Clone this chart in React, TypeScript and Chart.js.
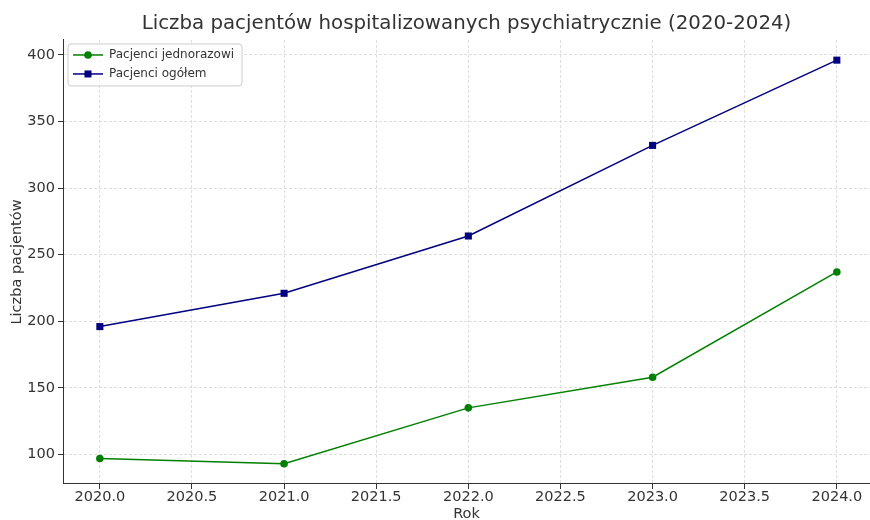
import React, { useEffect, useRef } from "react";
import { Chart, registerables } from "chart.js";

Chart.register(...registerables);

const years = [2020, 2021, 2022, 2023, 2024];
const jednorazowi = [97, 93, 135, 158, 237];
const ogolem = [196, 221, 264, 332, 396];
const seriesLabels = ["Pacjenci jednorazowi", "Pacjenci ogółem"];
const xTicks = [2020.0, 2020.5, 2021.0, 2021.5, 2022.0, 2022.5, 2023.0, 2023.5, 2024.0];
const yTicks = [100, 150, 200, 250, 300, 350, 400];
const titleText = "Liczba pacjentów hospitalizowanych psychiatrycznie (2020-2024)";
const xTitle = "Rok";
const yTitle = "Liczba pacjentów";

const FONT = "'DejaVu Sans', sans-serif";
const TEXT = "#333333";

const legendPlugin = {
  id: "innerLegend",
  afterDraw(chart: any) {
    const ctx = chart.ctx as CanvasRenderingContext2D;
    const area = chart.chartArea;
    const x0 = area.left + 5;
    const y0 = area.top + 4;
    const w = 174;
    const h = 42;
    ctx.save();
    ctx.beginPath();
    const r = 3;
    ctx.moveTo(x0 + r, y0);
    ctx.lineTo(x0 + w - r, y0);
    ctx.quadraticCurveTo(x0 + w, y0, x0 + w, y0 + r);
    ctx.lineTo(x0 + w, y0 + h - r);
    ctx.quadraticCurveTo(x0 + w, y0 + h, x0 + w - r, y0 + h);
    ctx.lineTo(x0 + r, y0 + h);
    ctx.quadraticCurveTo(x0, y0 + h, x0, y0 + h - r);
    ctx.lineTo(x0, y0 + r);
    ctx.quadraticCurveTo(x0, y0, x0 + r, y0);
    ctx.closePath();
    ctx.fillStyle = "rgba(255,255,255,0.8)";
    ctx.fill();
    ctx.strokeStyle = "#cccccc";
    ctx.lineWidth = 1;
    ctx.stroke();
    chart.data.datasets.forEach((ds: any, i: number) => {
      const cy = y0 + 11 + i * 19;
      ctx.strokeStyle = ds.borderColor;
      ctx.lineWidth = 1.5;
      ctx.beginPath();
      ctx.moveTo(x0 + 5, cy);
      ctx.lineTo(x0 + 35, cy);
      ctx.stroke();
      ctx.fillStyle = ds.borderColor;
      if (ds.pointStyle === "rect") {
        ctx.fillRect(x0 + 20 - 3.5, cy - 3.5, 7, 7);
      } else {
        ctx.beginPath();
        ctx.arc(x0 + 20, cy, 3.8, 0, Math.PI * 2);
        ctx.fill();
      }
      ctx.fillStyle = TEXT;
      ctx.font = `12px ${FONT}`;
      ctx.textBaseline = "middle";
      ctx.textAlign = "left";
      ctx.fillText(ds.label, x0 + 41, cy);
    });
    ctx.restore();
  },
};

export default function App() {
  const ref = useRef<HTMLCanvasElement | null>(null);
  useEffect(() => {
    if (!ref.current) return;
    const gridCommon = {
      color: "#d6d6d6",
      lineWidth: 0.8,
      tickColor: TEXT,
      tickBorderDash: [],
      tickLength: 5,
      tickWidth: 1,
    };
    const borderCommon = { display: true, color: TEXT, width: 1, dash: [3, 2] };
    const chart = new Chart(ref.current, {
      type: "line",
      data: {
        datasets: [
          {
            label: seriesLabels[0],
            data: years.map((x, i) => ({ x, y: jednorazowi[i] })),
            borderColor: "#008000",
            backgroundColor: "#008000",
            borderWidth: 1.5,
            pointStyle: "circle",
            pointRadius: 3.8,
            pointBorderWidth: 0,
            tension: 0,
          },
          {
            label: seriesLabels[1],
            data: years.map((x, i) => ({ x, y: ogolem[i] })),
            borderColor: "#000080",
            backgroundColor: "#000080",
            borderWidth: 1.5,
            pointStyle: "rect",
            pointRadius: 5,
            pointBorderWidth: 0,
            tension: 0,
          },
        ],
      },
      options: {
        animation: false,
        responsive: false,
        maintainAspectRatio: false,
        layout: { autoPadding: false, padding: { left: 0, right: 0, top: 0, bottom: 0 } },
        plugins: {
          legend: { display: false },
          tooltip: { enabled: false },
          title: {
            display: true,
            fullSize: false,
            text: titleText,
            color: TEXT,
            font: { family: FONT, size: 19.8, weight: "normal", lineHeight: 1.2 },
            padding: { top: 12, bottom: 4.2 },
          },
        },
        scales: {
          x: {
            type: "linear",
            min: 2019.8,
            max: 2024.18,
            afterBuildTicks: (scale: any) => {
              scale.ticks = xTicks.map((value) => ({ value }));
            },
            afterFit: (scale: any) => {
              scale.height = 36;
              scale.paddingLeft = 0;
              scale.paddingRight = 0;
            },
            ticks: {
              color: TEXT,
              font: { family: FONT, size: 14.5 },
              padding: 0,
              maxRotation: 0,
              autoSkip: false,
              callback: (v: any) => Number(v).toFixed(1),
            },
            grid: gridCommon,
            border: borderCommon,
            title: {
              display: true,
              text: xTitle,
              color: TEXT,
              font: { family: FONT, size: 14.5, lineHeight: 1 },
              padding: { top: 0, bottom: -1.3 },
            },
          },
          y: {
            type: "linear",
            min: 77.85,
            max: 411.15,
            afterBuildTicks: (scale: any) => {
              scale.ticks = yTicks.map((value) => ({ value }));
            },
            afterFit: (scale: any) => {
              scale.width = 63;
              scale.paddingTop = 0;
              scale.paddingBottom = 0;
            },
            ticks: {
              color: TEXT,
              font: { family: FONT, size: 14.5 },
              padding: 3,
              autoSkip: false,
              callback: (v: any) => String(Math.round(Number(v))),
            },
            grid: gridCommon,
            border: borderCommon,
            title: {
              display: true,
              text: yTitle,
              color: TEXT,
              font: { family: FONT, size: 14.5, lineHeight: 1.2 },
              padding: { top: 8.3, bottom: 0 },
            },
          },
        },
      } as any,
      plugins: [legendPlugin],
    });
    return () => chart.destroy();
  }, []);
  return (
    <div style={{ position: "fixed", left: 0, top: 0, width: 870, height: 520, background: "#fff" }}>
      <canvas ref={ref} width={870} height={520} style={{ width: 870, height: 520 }} />
    </div>
  );
}
